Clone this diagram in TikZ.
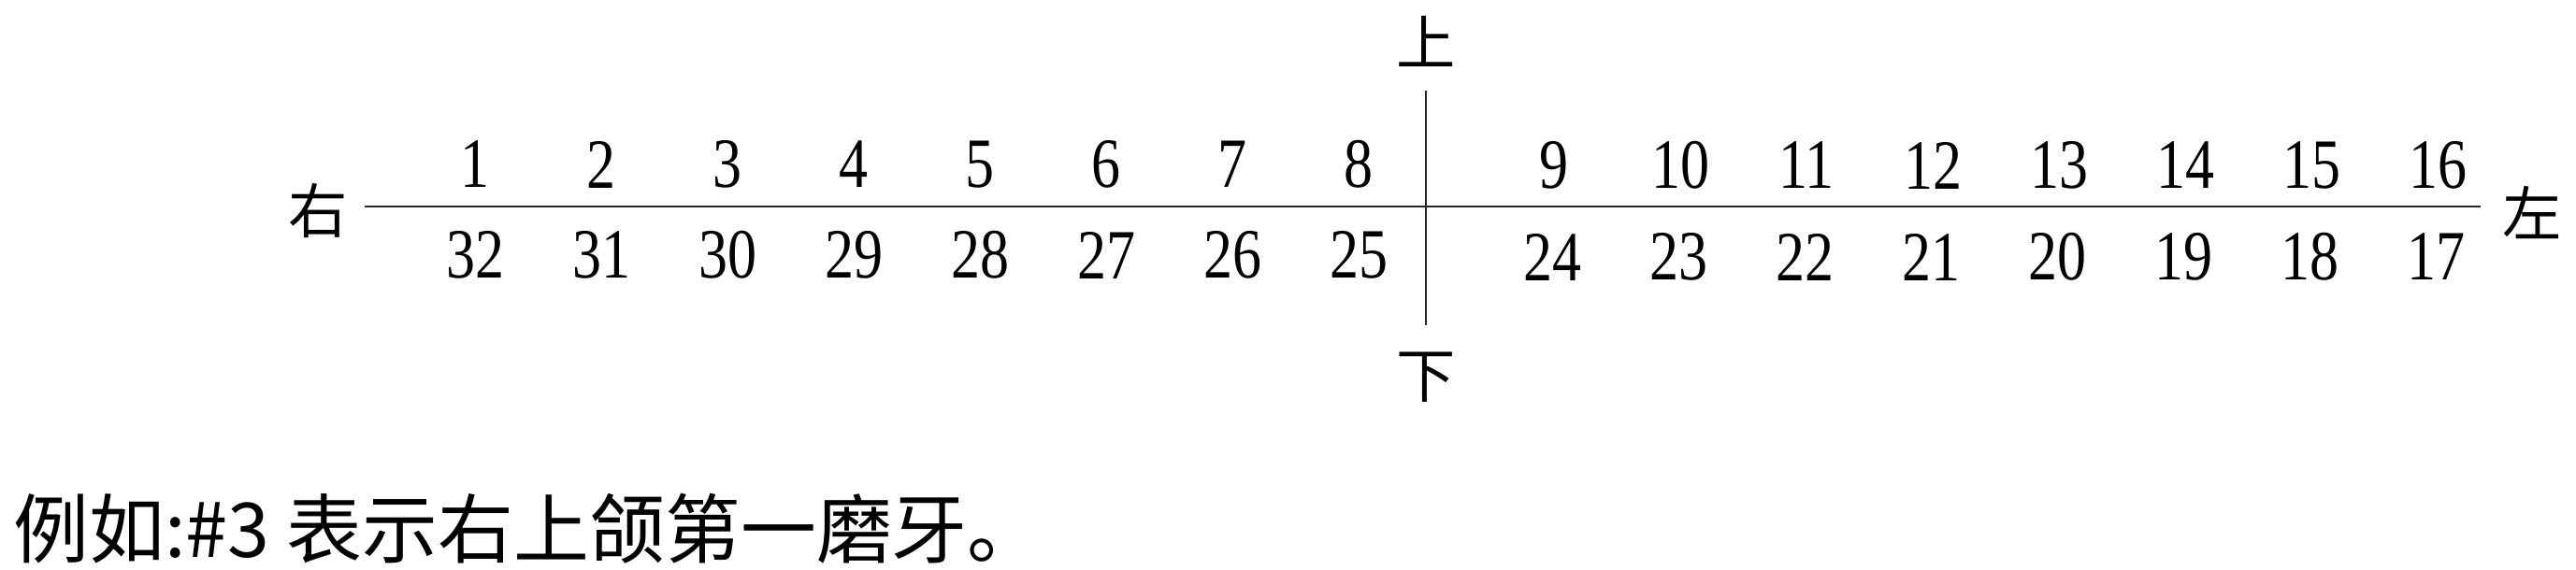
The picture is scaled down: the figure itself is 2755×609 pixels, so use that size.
\documentclass[tikz,border=0pt]{standalone}
\usepackage{fontspec}
\setmainfont{Liberation Serif}[FakeStretch=0.82]
\newfontfamily\cjk{Noto Sans CJK SC}
\begin{document}
\begin{tikzpicture}[x=0.01cm,y=-0.01cm,
  num/.style={inner sep=0pt,font=\fontsize{21.5pt}{21.5pt}\selectfont},
  han/.style={inner sep=0pt,font=\cjk\fontsize{18pt}{18pt}\selectfont},
  axis/.style={draw=black!85,line width=0.8pt}]
\useasboundingbox (0,0) rectangle (2755,609);
\fill[white] (0,0) rectangle (2755,609);
% labels
\node[han] (up) at (1525,44) {上};
\node[han] (down) at (1525,404) {下};
\node[han] (right) at (340,225) {右};
\node[han] (left) at (2708,228) {左};
\coordinate (hl) at (390,221);
\coordinate (hr) at (2653,221);
\coordinate (vt) at (1525,97);
\coordinate (vb) at (1525,348);
\draw[axis] (hl) -- (hr);
\draw[axis,line width=0.5pt] (vt) -- (vb);
% quadrants
\foreach \i in {1,...,8}{
  \node[num] (t\i) at ({508+135*(\i-1)},176) {\i};
  \pgfmathtruncatemacro{\b}{33-\i}
  \node[num] (t\b) at ({508+135*(\i-1)},273) {\b};
}
\foreach \i in {9,...,16}{
  \node[num] (t\i) at ({1662+135*(\i-9)},177) {\i};
  \pgfmathtruncatemacro{\b}{33-\i}
  \node[num] (t\b) at ({1660+135*(\i-9)},275) {\b};
}
\node[anchor=west,inner sep=0pt,font=\cjk\fontsize{23pt}{23pt}\selectfont] (note) at (14,566) {例如:\#3 表示右上颌第一磨牙。};
\end{tikzpicture}
\end{document}
